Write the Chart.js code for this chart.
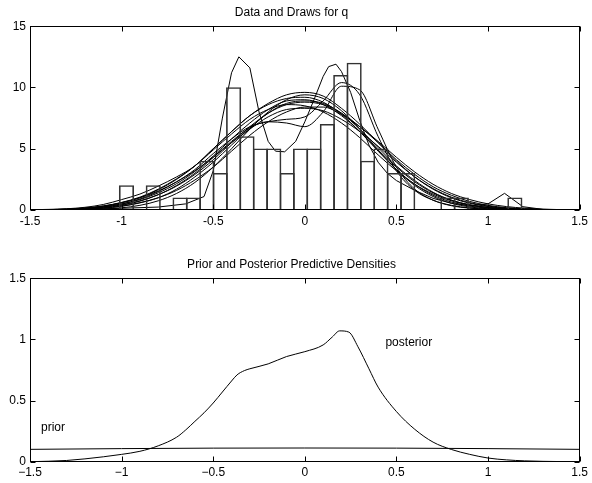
<!DOCTYPE html>
<html>
<head>
<meta charset="utf-8">
<script src="https://cdn.jsdelivr.net/npm/chart.js@4.4.1/dist/chart.umd.min.js"></script>
<style>
  body { margin: 0; background: #fff; }
  canvas { position: absolute; left: 0; }
  #drawsCanvas { top: 0; }
  #densCanvas { top: 250px; }
</style>
</head>
<body>
<canvas id="drawsCanvas" width="592" height="240"></canvas>
<canvas id="densCanvas" width="592" height="233"></canvas>
<script>
// histogram of q (30 bins)
const binCenters = [-0.9735, -0.9004, -0.8273, -0.7542, -0.6811, -0.6080, -0.5349, -0.4618, -0.3887, -0.3156,
                    -0.2425, -0.1694, -0.0963, -0.0232, 0.0499, 0.1230, 0.1961, 0.2692, 0.3423, 0.4154,
                    0.4885, 0.5616, 0.6347, 0.7078, 0.7809, 0.8540, 0.9271, 1.0002, 1.0733, 1.1464];
const binCounts = [2, 0, 2, 0, 1, 1, 4, 3, 10, 6,
                   5, 5, 3, 5, 5, 7, 11, 12, 4, 5,
                   3, 3, 0, 0, 1, 1, 0, 0, 0, 1];

const gridX = [-1.5, -1.4, -1.3, -1.2, -1.1, -1.0, -0.9, -0.8, -0.7, -0.6, -0.5, -0.4, -0.3, -0.2, -0.1,
               0, 0.1, 0.2, 0.3, 0.4, 0.5, 0.6, 0.7, 0.8, 0.9, 1.0, 1.1, 1.2, 1.3, 1.4, 1.5];
const draw1 = [0.02, 0.05, 0.1, 0.22, 0.45, 0.85, 1.3, 1.95, 2.7, 3.6, 5.0, 6.4, 7.7, 8.7, 9.4, 9.6, 9.3, 8.3, 7.0, 5.5, 4.0, 2.7, 1.7, 1.0, 0.55, 0.28, 0.13, 0.06, 0.03, 0.01, 0];
const draw2 = [0, 0, 0.01, 0.03, 0.08, 0.18, 0.38, 0.75, 1.35, 2.25, 3.5, 5.0, 6.6, 8.0, 9.0, 9.4, 9.1, 8.1, 6.6, 4.9, 3.3, 2.0, 1.1, 0.55, 0.25, 0.1, 0.04, 0.01, 0, 0, 0];
const draw3 = [0.01, 0.02, 0.05, 0.12, 0.25, 0.48, 0.85, 1.4, 2.15, 3.15, 4.4, 5.8, 7.1, 8.2, 8.9, 9.0, 8.6, 7.7, 6.4, 4.9, 3.5, 2.3, 1.4, 0.8, 0.42, 0.2, 0.09, 0.04, 0.015, 0.005, 0];
const draw4 = [0.01, 0.02, 0.04, 0.1, 0.22, 0.42, 0.75, 1.25, 1.95, 2.9, 4.1, 5.5, 6.8, 7.9, 8.6, 8.8, 8.6, 7.9, 6.8, 5.5, 4.1, 2.9, 1.9, 1.2, 0.7, 0.38, 0.19, 0.09, 0.04, 0.015, 0.005];
const draw5 = [0.01, 0.03, 0.07, 0.16, 0.33, 0.62, 1.05, 1.7, 2.55, 3.6, 4.9, 6.2, 7.4, 8.2, 8.6, 8.5, 8.0, 7.1, 5.9, 4.5, 3.2, 2.1, 1.3, 0.75, 0.4, 0.2, 0.09, 0.04, 0.015, 0.005, 0];
const draw6 = [0, 0.01, 0.03, 0.07, 0.16, 0.32, 0.6, 1.0, 1.6, 2.45, 3.5, 4.8, 6.1, 7.2, 8.0, 8.4, 8.4, 7.8, 6.8, 5.6, 4.3, 3.1, 2.1, 1.35, 0.85, 0.5, 0.28, 0.15, 0.07, 0.03, 0.01];
const draw7 = [0.01, 0.02, 0.06, 0.14, 0.3, 0.58, 1.0, 1.65, 2.5, 3.6, 5.0, 6.4, 7.7, 8.6, 9.1, 9.2, 8.8, 7.8, 6.4, 4.8, 3.3, 2.1, 1.2, 0.65, 0.32, 0.15, 0.06, 0.02, 0.01, 0, 0];
const draw8 = [0.01, 0.03, 0.07, 0.16, 0.32, 0.6, 1.0, 1.55, 2.3, 3.2, 4.3, 5.5, 6.6, 7.6, 8.2, 8.3, 8.1, 7.4, 6.4, 5.2, 3.9, 2.7, 1.75, 1.05, 0.6, 0.32, 0.16, 0.07, 0.03, 0.01, 0];
const draw9 = [0, 0.01, 0.02, 0.06, 0.14, 0.3, 0.58, 1.0, 1.7, 2.7, 3.9, 5.3, 6.7, 7.9, 8.7, 8.9, 8.7, 7.9, 6.6, 5.1, 3.6, 2.4, 1.45, 0.8, 0.42, 0.2, 0.08, 0.03, 0.01, 0, 0];
const drawB = [0.01, 0.02, 0.05, 0.12, 0.26, 0.5, 0.9, 1.5, 2.3, 3.3, 4.6, 5.8, 6.8, 7.2, 7.4, 7.6, 8.9, 10.4, 9.4, 6.0, 3.2, 1.6, 0.8, 0.38, 0.17, 0.07, 0.03, 0.01, 0, 0, 0];
const drawC = [0, 0.01, 0.03, 0.08, 0.18, 0.38, 0.72, 1.25, 2.0, 3.0, 4.3, 5.6, 6.7, 7.2, 7.1, 6.8, 8.0, 10.1, 9.8, 6.6, 3.5, 1.7, 0.8, 0.35, 0.15, 0.06, 0.02, 0.01, 0, 0, 0];
const smoothDraws = [draw1, draw2, draw3, draw4, draw5, draw6, draw7, draw8, draw9, drawB, drawC];

// the spiky draw
const spikeX = [-1.5, -1.2, -1.0, -0.8, -0.65, -0.55, -0.5, -0.45, -0.4, -0.36, -0.3, -0.25, -0.2, -0.16, -0.11, -0.05,
                0.0, 0.05, 0.1, 0.13, 0.17, 0.2, 0.25, 0.3, 0.35, 0.4, 0.45, 0.5, 0.6, 0.7, 0.8, 0.9, 1.0, 1.09, 1.19, 1.3, 1.5];
const spikeY = [0, 0.05, 0.14, 0.24, 0.5, 1.1, 3.2, 7.5, 11.2, 12.5, 11.6, 8.0, 5.6, 4.8, 4.75, 5.6,
                7.2, 9.0, 10.9, 11.7, 11.9, 11.3, 9.6, 7.3, 5.3, 3.9, 3.0, 2.4, 1.6, 0.95, 0.55, 0.35, 0.5, 1.36, 0.27, 0.05, 0];

// predictive densities
const predX = [-1.5, -1.3, -1.1, -1.0, -0.9, -0.8, -0.7, -0.65, -0.6, -0.55, -0.5, -0.45, -0.4, -0.37, -0.33, -0.3, -0.2, -0.1,
               0.0, 0.1, 0.15, 0.19, 0.24, 0.29, 0.35, 0.4, 0.5, 0.6, 0.7, 0.8, 0.9, 1.0, 1.1, 1.2, 1.3, 1.4, 1.5];
const posterior = [0, 0.01, 0.04, 0.06, 0.085, 0.13, 0.2, 0.26, 0.33, 0.4, 0.48, 0.57, 0.66, 0.71, 0.745, 0.76, 0.8, 0.86,
                   0.9, 0.955, 1.02, 1.07, 1.06, 0.94, 0.76, 0.61, 0.41, 0.265, 0.16, 0.1, 0.06, 0.03, 0.015, 0.007, 0.003, 0.001, 0];
const priorX = [-1.5, -1.0, -0.5, 0, 0.5, 1.0, 1.5];
const prior = [0.101, 0.107, 0.111, 0.112, 0.111, 0.107, 0.101];

const noteText = ['prior', 'posterior'];
const noteX = [-1.44, 0.44];
const noteY = [0.28, 0.97];

const xTicks = [-1.5, -1, -0.5, 0, 0.5, 1, 1.5];

Chart.defaults.font.family = '"Liberation Sans", Arial, sans-serif';
Chart.defaults.font.size = 12;
Chart.defaults.color = '#000';

const pts = (xs, ys) => xs.map((x, i) => ({ x: x, y: ys[i] }));

// matlab-style box with inward ticks on all four sides
const boxTicks = {
    id: 'boxTicks',
    afterDraw(chart) {
        const { ctx, chartArea: a } = chart;
        const xs = chart.scales.x, ys = chart.scales.y;
        const L = Math.round(a.left) + 0.5, R = Math.round(a.right) - 0.5;
        const T = Math.round(a.top) + 0.5, B = Math.round(a.bottom) - 0.5;
        const len = 5;
        ctx.save();
        ctx.strokeStyle = '#000';
        ctx.lineWidth = 1;
        ctx.strokeRect(L, T, R - L, B - T);
        ctx.beginPath();
        xs.ticks.forEach(t => {
            const px = Math.round(xs.getPixelForValue(t.value)) + 0.5;
            ctx.moveTo(px, B); ctx.lineTo(px, B - len);
            ctx.moveTo(px, T); ctx.lineTo(px, T + len);
        });
        ys.ticks.forEach(t => {
            const py = Math.round(ys.getPixelForValue(t.value)) + 0.5;
            ctx.moveTo(L, py); ctx.lineTo(L + len, py);
            ctx.moveTo(R, py); ctx.lineTo(R - len, py);
        });
        ctx.stroke();
        ctx.restore();
    }
};

const curveNotes = {
    id: 'curveNotes',
    afterDatasetsDraw(chart, args, opts) {
        if (!opts.show) return;
        const ctx = chart.ctx;
        ctx.save();
        ctx.fillStyle = '#000';
        ctx.font = '12px "Liberation Sans", Arial, sans-serif';
        ctx.textAlign = 'left';
        ctx.textBaseline = 'middle';
        noteText.forEach((txt, i) => {
            ctx.fillText(txt, chart.scales.x.getPixelForValue(noteX[i]), chart.scales.y.getPixelForValue(noteY[i]));
        });
        ctx.restore();
    }
};

function xScale(height, minusSign) {
    return {
        type: 'linear', min: -1.5, max: 1.5, offset: false,
        afterBuildTicks: s => { s.ticks = xTicks.map(v => ({ value: v })); },
        afterFit: s => { s.height = height; },
        grid: { display: false, drawTicks: false },
        border: { display: false },
        ticks: {
            padding: 4, maxRotation: 0, autoSkip: false,
            callback: v => minusSign ? String(v).replace('-', '\u2212') : String(v)
        }
    };
}

function yScale(max, step) {
    return {
        min: 0, max: max,
        afterFit: s => { s.width = 30; },
        grid: { display: false, drawTicks: false },
        border: { display: false },
        ticks: { stepSize: step, padding: 4, callback: v => String(v) }
    };
}

const lineStyle = { borderColor: '#000', borderWidth: 1, pointRadius: 0, fill: false };

// top panel: histogram and draws
const drawSets = smoothDraws.map(d => Object.assign({
    type: 'line', data: pts(gridX, d), cubicInterpolationMode: 'monotone'
}, lineStyle));
drawSets.push(Object.assign({ type: 'line', data: pts(spikeX, spikeY), tension: 0 }, lineStyle));

new Chart(document.getElementById('drawsCanvas'), {
    type: 'bar',
    data: {
        datasets: [{
            type: 'bar',
            data: pts(binCenters, binCounts),
            backgroundColor: 'rgba(0,0,0,0)',
            borderColor: '#333',
            borderWidth: 1,
            barThickness: 14.48
        }].concat(drawSets)
    },
    options: {
        responsive: false,
        animation: false,
        layout: { padding: { left: 0, right: 9, top: 0, bottom: 0 } },
        scales: { x: xScale(30, false), y: yScale(15, 5) },
        plugins: {
            legend: { display: false },
            tooltip: { enabled: false },
            title: { display: true, text: 'Data and Draws for q', font: { size: 12, weight: 'normal' }, padding: { top: 5.5, bottom: 6.3 } },
            curveNotes: { show: false }
        }
    },
    plugins: [boxTicks, curveNotes]
});

// bottom panel: prior and posterior predictive
new Chart(document.getElementById('densCanvas'), {
    type: 'line',
    data: {
        datasets: [
            Object.assign({ data: pts(predX, posterior), cubicInterpolationMode: 'monotone' }, lineStyle),
            Object.assign({ data: pts(priorX, prior), cubicInterpolationMode: 'monotone' }, lineStyle)
        ]
    },
    options: {
        responsive: false,
        animation: false,
        layout: { padding: { left: 0, right: 9, top: 0, bottom: 0 } },
        scales: { x: xScale(21.3, true), y: yScale(1.5, 0.5) },
        plugins: {
            legend: { display: false },
            tooltip: { enabled: false },
            title: { display: true, text: 'Prior and Posterior Predictive Densities', font: { size: 12, weight: 'normal' }, padding: { top: 7.8, bottom: 6.1 } },
            curveNotes: { show: true }
        }
    },
    plugins: [boxTicks, curveNotes]
});
</script>
</body>
</html>
